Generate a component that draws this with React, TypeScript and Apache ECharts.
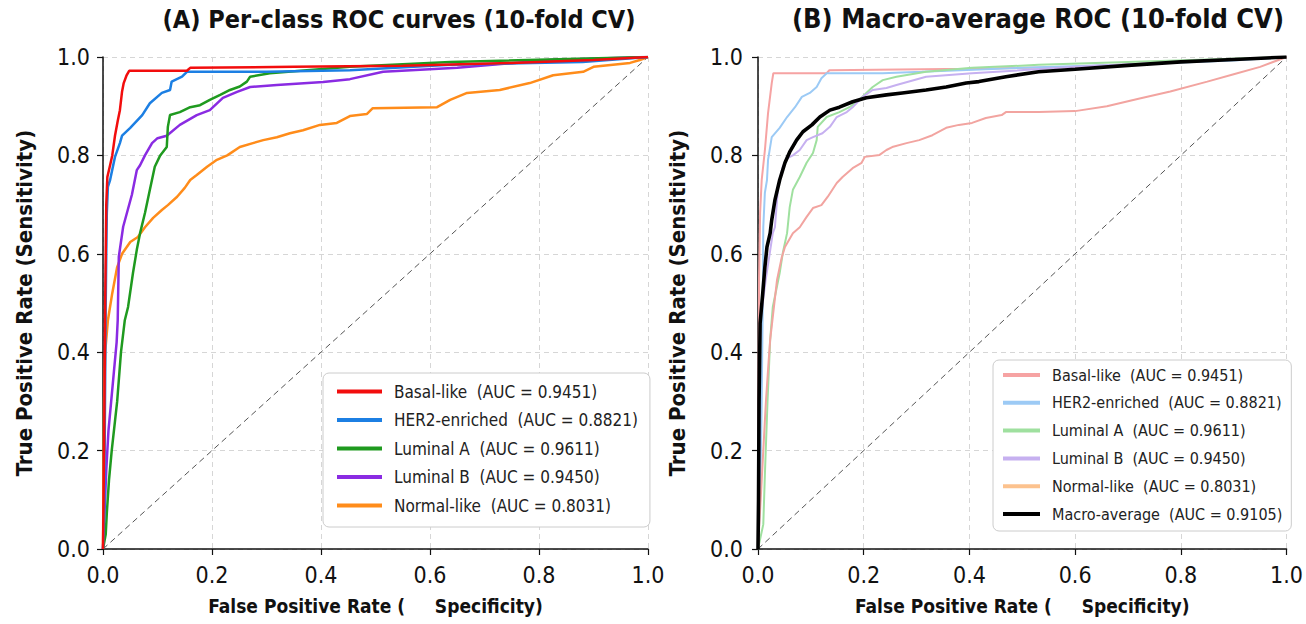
import React, { useEffect, useRef } from "react";
import * as echarts from "echarts";

const FONT = "'Liberation Sans Narrow', 'DejaVu Sans Condensed', 'Noto Sans', sans-serif";

const tickValues = [0, 0.2, 0.4, 0.6, 0.8, 1.0];
const classNames = ["Basal-like", "HER2-enriched", "Luminal A", "Luminal B", "Normal-like"];
const aucValues = ["0.9451", "0.8821", "0.9611", "0.9450", "0.8031"];
const macroName = "Macro-average";
const macroAuc = "0.9105";

const basalA: number[][] = [[0,0],[0.002,0.2],[0.004,0.5],[0.006,0.7],[0.008,0.756],[0.013,0.78],[0.017,0.8],[0.022,0.84],[0.027,0.87],[0.031,0.892],[0.035,0.93],[0.038,0.947],[0.043,0.962],[0.048,0.972],[0.154,0.972],[0.16,0.978],[0.35,0.98],[0.55,0.982],[0.75,0.988],[0.9,0.994],[1,1]];
const her2A: number[][] = [[0,0],[0.002,0.06],[0.003,0.2],[0.004,0.35],[0.005,0.5],[0.006,0.6],[0.007,0.683],[0.009,0.736],[0.013,0.75],[0.022,0.797],[0.031,0.825],[0.035,0.84],[0.05,0.856],[0.072,0.882],[0.086,0.906],[0.108,0.927],[0.123,0.933],[0.126,0.95],[0.145,0.96],[0.154,0.97],[0.3,0.97],[0.453,0.973],[0.637,0.984],[0.88,0.99],[1,1]];
const lumAA: number[][] = [[0,0],[0.005,0.03],[0.007,0.073],[0.011,0.14],[0.016,0.2],[0.022,0.26],[0.026,0.3],[0.033,0.4],[0.04,0.465],[0.046,0.492],[0.055,0.561],[0.062,0.608],[0.068,0.642],[0.077,0.683],[0.086,0.73],[0.095,0.777],[0.105,0.8],[0.117,0.817],[0.119,0.858],[0.123,0.882],[0.141,0.888],[0.16,0.898],[0.178,0.902],[0.196,0.913],[0.215,0.923],[0.233,0.933],[0.251,0.94],[0.264,0.95],[0.27,0.96],[0.306,0.967],[0.453,0.98],[0.637,0.99],[1,1]];
const lumBA: number[][] = [[0,0],[0.003,0.08],[0.006,0.16],[0.01,0.24],[0.015,0.3],[0.02,0.36],[0.025,0.42],[0.027,0.465],[0.029,0.594],[0.037,0.655],[0.053,0.72],[0.062,0.77],[0.068,0.78],[0.077,0.8],[0.09,0.825],[0.1,0.835],[0.117,0.84],[0.141,0.862],[0.172,0.882],[0.196,0.892],[0.22,0.917],[0.246,0.929],[0.27,0.939],[0.319,0.943],[0.404,0.949],[0.453,0.955],[0.514,0.97],[0.65,0.978],[0.82,0.994],[1,1]];
const normalA: number[][] = [[0,0],[0.001,0.15],[0.002,0.3],[0.004,0.4],[0.009,0.465],[0.017,0.52],[0.026,0.573],[0.035,0.6],[0.05,0.624],[0.064,0.634],[0.077,0.654],[0.092,0.673],[0.108,0.689],[0.119,0.699],[0.136,0.716],[0.15,0.734],[0.16,0.75],[0.172,0.76],[0.191,0.777],[0.209,0.791],[0.228,0.8],[0.251,0.817],[0.275,0.825],[0.294,0.831],[0.319,0.837],[0.343,0.845],[0.367,0.851],[0.398,0.862],[0.429,0.866],[0.453,0.88],[0.484,0.884],[0.495,0.896],[0.613,0.898],[0.637,0.913],[0.668,0.927],[0.728,0.933],[0.783,0.947],[0.826,0.963],[0.881,0.97],[0.9,0.98],[0.967,0.988],[0.985,0.994],[1,1]];

const basalB: number[][] = [[0,0],[0.001,0.3],[0.002,0.55],[0.004,0.683],[0.007,0.75],[0.013,0.81],[0.019,0.886],[0.026,0.947],[0.029,0.967],[0.13,0.967],[0.135,0.973],[0.4,0.976],[0.6,0.98],[0.8,0.99],[1,1]];
const her2B: number[][] = [[0,0],[0.004,0.1],[0.007,0.3],[0.009,0.5],[0.01,0.654],[0.013,0.724],[0.017,0.75],[0.019,0.791],[0.026,0.837],[0.041,0.856],[0.055,0.878],[0.07,0.898],[0.083,0.919],[0.098,0.927],[0.111,0.939],[0.12,0.957],[0.13,0.967],[0.236,0.967],[0.31,0.97],[0.5,0.978],[0.7,0.985],[0.9,0.993],[1,1]];
const lumAB: number[][] = [[0,0],[0.01,0.05],[0.013,0.15],[0.018,0.3],[0.023,0.425],[0.028,0.492],[0.041,0.561],[0.047,0.602],[0.055,0.642],[0.06,0.695],[0.066,0.73],[0.079,0.756],[0.092,0.785],[0.104,0.805],[0.111,0.831],[0.113,0.858],[0.13,0.878],[0.154,0.888],[0.173,0.898],[0.192,0.913],[0.205,0.927],[0.217,0.939],[0.236,0.953],[0.262,0.96],[0.318,0.97],[0.405,0.978],[0.531,0.984],[0.7,0.99],[1,1]];
const lumBB: number[][] = [[0,0],[0.002,0.2],[0.004,0.459],[0.015,0.55],[0.028,0.642],[0.032,0.654],[0.038,0.736],[0.047,0.777],[0.055,0.794],[0.066,0.8],[0.079,0.811],[0.092,0.831],[0.104,0.837],[0.122,0.845],[0.136,0.858],[0.149,0.878],[0.168,0.888],[0.179,0.898],[0.198,0.919],[0.217,0.933],[0.243,0.937],[0.262,0.943],[0.318,0.96],[0.405,0.967],[0.6,0.98],[0.8,0.99],[1,1]];
const normalB: number[][] = [[0,0],[0.005,0.1],[0.01,0.2],[0.015,0.3],[0.02,0.38],[0.023,0.425],[0.036,0.547],[0.045,0.593],[0.051,0.614],[0.066,0.642],[0.079,0.654],[0.092,0.675],[0.104,0.693],[0.12,0.699],[0.132,0.716],[0.149,0.744],[0.16,0.756],[0.179,0.774],[0.196,0.785],[0.202,0.797],[0.23,0.801],[0.243,0.811],[0.254,0.817],[0.281,0.825],[0.305,0.831],[0.33,0.841],[0.356,0.856],[0.38,0.862],[0.405,0.866],[0.431,0.876],[0.461,0.882],[0.469,0.888],[0.531,0.888],[0.6,0.89],[0.66,0.9],[0.72,0.915],[0.78,0.93],[0.85,0.95],[0.9,0.965],[0.95,0.98],[1,1]];
const macroB: number[][] = [[0,0],[0.001,0.1],[0.002,0.3],[0.004,0.459],[0.009,0.52],[0.013,0.573],[0.017,0.614],[0.023,0.642],[0.026,0.669],[0.032,0.709],[0.041,0.75],[0.051,0.785],[0.06,0.807],[0.073,0.831],[0.085,0.848],[0.102,0.862],[0.117,0.878],[0.136,0.892],[0.154,0.898],[0.179,0.909],[0.205,0.917],[0.243,0.923],[0.273,0.927],[0.318,0.933],[0.356,0.939],[0.394,0.947],[0.418,0.95],[0.469,0.96],[0.531,0.97],[0.6,0.975],[0.7,0.983],[0.8,0.99],[0.9,0.995],[1,1]];
const chanceLine: number[][] = [[0,0],[1,1]];

const seriesA = [basalA, her2A, lumAA, lumBA, normalA];
const seriesB = [basalB, her2B, lumAB, lumBB, normalB];
const colorsA = ["#f20d0d", "#1c7fe3", "#1f9a1f", "#8a2be2", "#ff8c1a"];
const colorsB = ["#f6a3a3", "#9ccaf5", "#9fe09f", "#c6b0f0", "#f2a4a0"];
const legendColorsB = ["#f6a3a3", "#9ccaf5", "#9fe09f", "#c6b0f0", "#fcc28e"];

export default function App() {
  const ref = useRef<HTMLDivElement>(null);
  useEffect(() => {
    document.body.style.margin = "0";
    if (!ref.current) return;
    const chart = echarts.init(ref.current, null, { renderer: "svg" });

    const labelMap: Record<string, string> = {};
    classNames.forEach((n, i) => {
      labelMap["A:" + n] = `${n}  (AUC = ${aucValues[i]})`;
      labelMap["B:" + n] = `${n}  (AUC = ${aucValues[i]})`;
    });
    labelMap["B:" + macroName] = `${macroName}  (AUC = ${macroAuc})`;

    const xAxisBase = (gridIndex: number) => ({
      type: "value",
      gridIndex,
      min: 0,
      max: 1,
      interval: 0.2,
      name: "False Positive Rate (     Specificity)",
      nameLocation: "middle",
      nameGap: 47,
      nameTextStyle: { fontFamily: FONT, fontSize: 19, fontWeight: "bold", color: "#111" },
      axisLine: { lineStyle: { color: "#111", width: 1.5 } },
      axisTick: { length: 6, lineStyle: { color: "#111", width: 1.2 } },
      axisLabel: {
        fontFamily: FONT, fontSize: 23, color: "#111", margin: 14,
        formatter: (v: number) => v.toFixed(1),
      },
      splitLine: { show: true, lineStyle: { color: "#d6d6d6", type: [5, 4], width: 1 } },
    });
    const yAxisBase = (gridIndex: number, offset: number) => ({
      type: "value",
      gridIndex,
      min: 0,
      max: 1,
      interval: 0.2,
      offset,
      name: "True Positive Rate (Sensitivity)",
      nameLocation: "middle",
      nameGap: 64,
      nameTextStyle: { fontFamily: FONT, fontSize: 22, fontWeight: "bold", color: "#111" },
      axisLine: { show: true, lineStyle: { color: "#111", width: 1.5 } },
      axisTick: { show: true, length: 6, lineStyle: { color: "#111", width: 1.2 } },
      axisLabel: {
        fontFamily: FONT, fontSize: 23, color: "#111", margin: 9,
        formatter: (v: number) => v.toFixed(1),
      },
      splitLine: { show: true, lineStyle: { color: "#d6d6d6", type: [5, 4], width: 1 } },
    });

    const series: any[] = [];
    series.push({
      type: "line", xAxisIndex: 0, yAxisIndex: 0, data: chanceLine, symbol: "none",
      lineStyle: { color: "#555", width: 1, type: [6, 4] }, silent: true, z: 1,
    });
    seriesA.forEach((d, i) => {
      series.push({
        name: "A:" + classNames[i], type: "line", xAxisIndex: 0, yAxisIndex: 0, data: d,
        symbol: "none", color: colorsA[i], lineStyle: { width: 2.5, color: colorsA[i] }, z: 10 - i,
      });
    });
    series.push({
      type: "line", xAxisIndex: 1, yAxisIndex: 1, data: chanceLine, symbol: "none",
      lineStyle: { color: "#555", width: 1, type: [6, 4] }, silent: true, z: 1,
    });
    seriesB.forEach((d, i) => {
      series.push({
        name: "B:" + classNames[i], type: "line", xAxisIndex: 1, yAxisIndex: 1, data: d,
        symbol: "none", color: colorsB[i], lineStyle: { width: 2, color: colorsB[i] }, z: 5,
      });
    });
    series.push({
      name: "B:" + macroName, type: "line", xAxisIndex: 1, yAxisIndex: 1, data: macroB,
      symbol: "none", color: "#000", lineStyle: { width: 3.6, color: "#000" }, z: 20,
    });

    const legendCommon = {
      orient: "vertical",
      icon: "rect",
      itemHeight: 4,
      selectedMode: false,
      backgroundColor: "#ffffff",
      borderColor: "#cccccc",
      borderWidth: 1,
      borderRadius: 6,
      formatter: (n: string) => "{t|" + labelMap[n] + "}",
    };

    chart.setOption({
      animation: false,
      backgroundColor: "#ffffff",
      grid: [
        { left: 103, right: 658, top: 57, bottom: 75 },
        { left: 758, right: 17, top: 57, bottom: 75 },
      ],
      xAxis: [xAxisBase(0), xAxisBase(1)],
      yAxis: [yAxisBase(0, 4), yAxisBase(1, 6)],
      legend: [
        {
          ...legendCommon,
          left: 323, top: 373, itemWidth: 45, itemGap: 11.5,
          padding: [10, 12, 13, 14],
          textStyle: {
            rich: { t: { fontFamily: FONT, fontSize: 17, color: "#222", padding: [0, 0, 0, 7], lineHeight: 18 } },
          },
          data: classNames.map((n) => ({ name: "A:" + n })),
        },
        {
          ...legendCommon,
          left: 993, top: 360, itemWidth: 37, itemGap: 11.8,
          padding: [7, 9, 9, 10],
          textStyle: {
            rich: { t: { fontFamily: FONT, fontSize: 16, color: "#222", padding: [0, 0, 0, 7], lineHeight: 16 } },
          },
          data: [
            ...classNames.map((n, i) => ({ name: "B:" + n, itemStyle: { color: legendColorsB[i] } })),
            { name: "B:" + macroName, itemStyle: { color: "#000" } },
          ],
        },
      ],
      graphic: [
        {
          type: "text", x: 399, y: 7,
          style: {
            text: "(A) Per-class ROC curves (10-fold CV)", fill: "#111",
            font: `bold 25px ${FONT}`, align: "center", textAlign: "center",
          },
        },
        {
          type: "text", x: 1038, y: 5,
          style: {
            text: "(B) Macro-average ROC (10-fold CV)", fill: "#111",
            font: `bold 27px ${FONT}`, align: "center", textAlign: "center",
          },
        },
      ],
      series,
    });
    return () => chart.dispose();
  }, []);
  return <div ref={ref} style={{ width: 1306, height: 624 }} />;
}
